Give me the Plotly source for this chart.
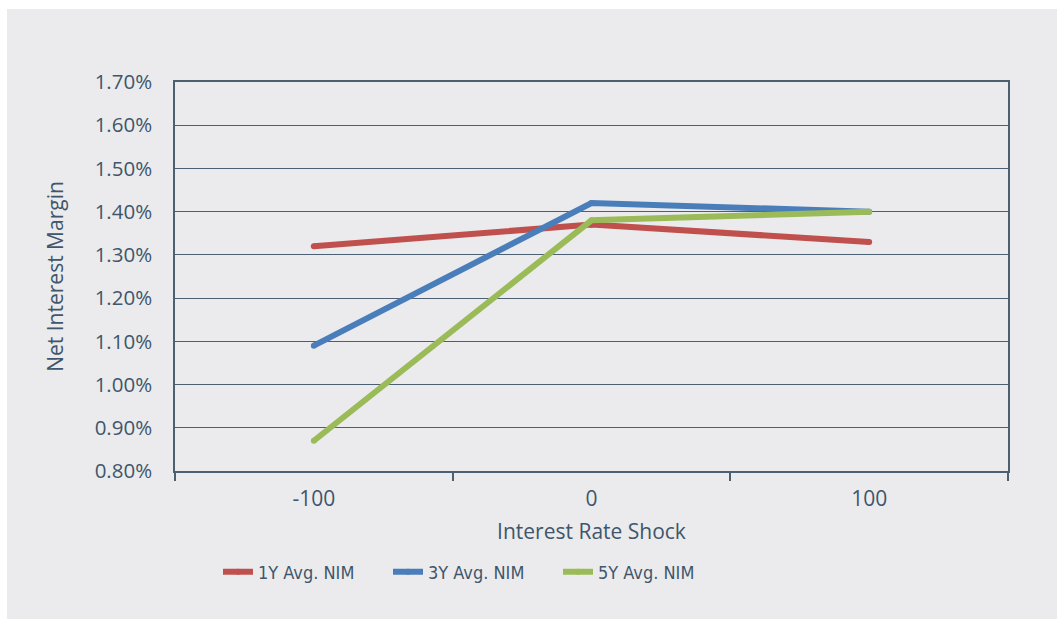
import plotly.graph_objects as go

# Interest rate shock scenarios (basis points)
shocks = ["-100", "0", "100"]

# Average net interest margin under each shock
nim_1y = [0.0132, 0.0137, 0.0133]
nim_3y = [0.0109, 0.0142, 0.0140]
nim_5y = [0.0087, 0.0138, 0.0140]

series_names = ["1Y Avg. NIM", "3Y Avg. NIM", "5Y Avg. NIM"]
series_colors = ["#c0504d", "#4a7ebb", "#9bbb59"]

y_ticks = [0.008, 0.009, 0.010, 0.011, 0.012, 0.013, 0.014, 0.015, 0.016, 0.017]

TEXT = "#3f566b"
AXIS = "#4c6073"
PANEL = "#ebebed"
BODY_FONT = "Open Sans, Noto Sans, sans-serif"
NARROW_FONT = "Liberation Sans Narrow, DejaVu Sans Condensed, Noto Sans Condensed, Open Sans"

fig = go.Figure()
for name, vals, color in zip(series_names, [nim_1y, nim_3y, nim_5y], series_colors):
    fig.add_trace(go.Scatter(
        x=shocks, y=vals, name=name,
        mode="lines+markers",
        line=dict(color=color, width=6),
        marker=dict(color=color, size=6, line=dict(width=0)),
        hoverinfo="name+y",
    ))

# Grey panel behind the whole chart, leaving a thin white strip top and left
L, R, T, B = 175, 1008, 82, 471
W, H = R - L, B - T
fig.add_shape(
    type="rect", xref="paper", yref="paper", layer="below",
    x0=(7 - L) / W, x1=(1057 - L) / W,
    y0=(B - 619) / H, y1=(B - 9) / H,
    fillcolor=PANEL, line=dict(width=0),
)

fig.update_layout(
    width=1057, height=619,
    margin=dict(l=L, r=1057 - R, t=T, b=619 - B, pad=0),
    paper_bgcolor="white",
    plot_bgcolor=PANEL,
    font=dict(family=BODY_FONT, color=TEXT, size=21),
    showlegend=True,
    legend=dict(
        orientation="h",
        x=(218 - L) / W, xanchor="left",
        y=(B - 572) / H, yanchor="middle",
        bgcolor="rgba(0,0,0,0)",
        font=dict(family=NARROW_FONT, size=18, color=TEXT),
        entrywidth=125, entrywidthmode="pixels",
        itemwidth=30,
        traceorder="normal",
    ),
    xaxis=dict(
        type="category",
        range=[-0.5, 2.5],
        tickson="boundaries",
        ticks="outside", ticklen=8, tickwidth=1.5, tickcolor=AXIS,
        ticklabelstandoff=8,
        showline=True, linecolor=AXIS, linewidth=1.5, mirror=True,
        showgrid=False, zeroline=False,
        tickfont=dict(size=21, color=TEXT),
        title=dict(text="Interest Rate Shock", font=dict(size=21, color=TEXT), standoff=13),
    ),
    yaxis=dict(
        range=[0.008, 0.017],
        tickmode="array", tickvals=y_ticks,
        tickformat=".2%",
        ticks="", ticklabelstandoff=17,
        showline=True, linecolor=AXIS, linewidth=1.5, mirror=True,
        showgrid=True, gridcolor=AXIS, gridwidth=1.2,
        zeroline=False,
        tickfont=dict(size=20.5, color=TEXT),
        title=dict(text="Net Interest Margin", font=dict(size=21, color=TEXT), standoff=25),
    ),
)

fig.write_html("out.html")
